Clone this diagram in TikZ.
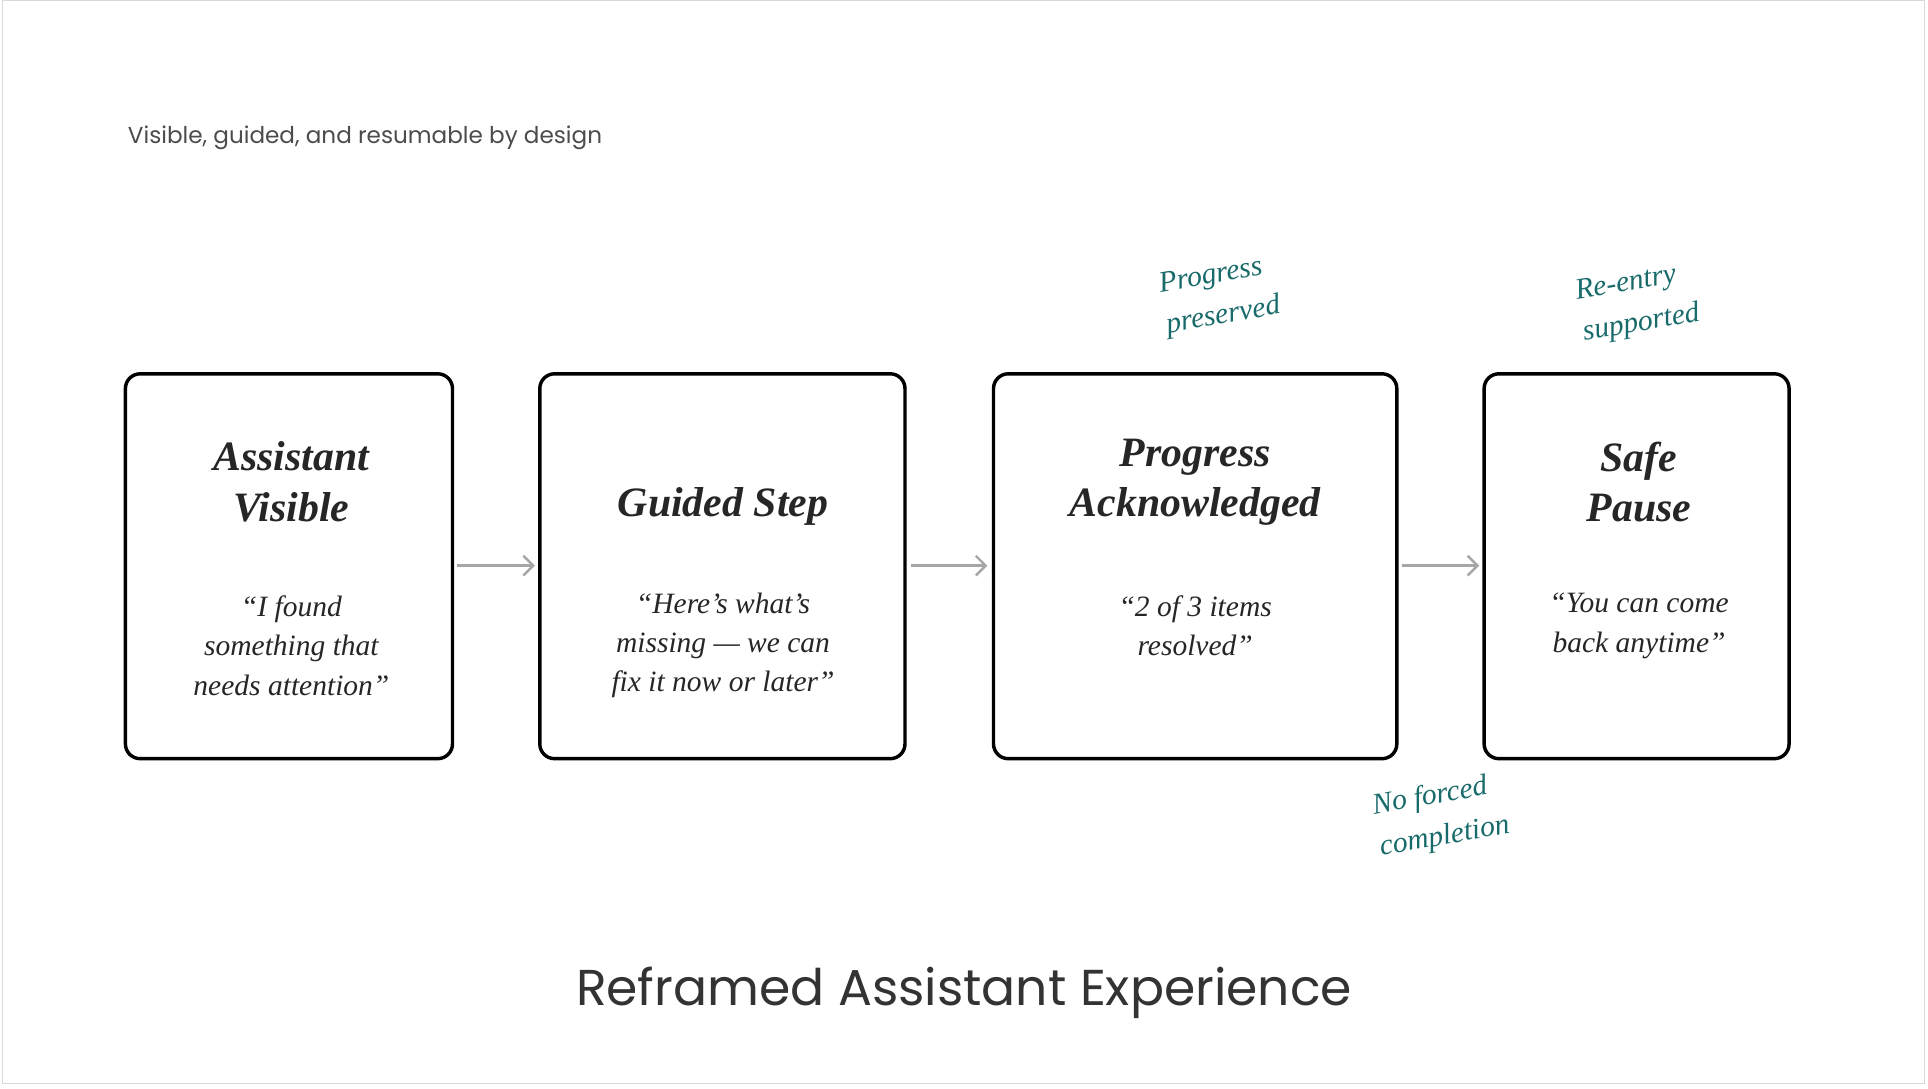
\documentclass[tikz,border=0pt]{standalone}
\usepackage{fontspec}
\usetikzlibrary{arrows.meta}
\setmainfont{Liberation Serif}
\newfontfamily\popp{Poppins}
\newfontfamily\hand{Liberation Serif}
\begin{document}
\begin{tikzpicture}[x=0.5pt,y=-0.5pt,
  card/.style={draw=black,line width=1.4pt,rounded corners=6pt,fill=white},
  ttl/.style={font=\hand\itshape\bfseries\fontsize{17}{20.5}\selectfont,align=center,text=black!85},
  quo/.style={font=\hand\itshape\fontsize{12}{16}\selectfont,align=center,text=black!85},
  note/.style={font=\hand\itshape\fontsize{12}{17}\selectfont,align=left,text=teal!70!black!90,rotate=10},
  arr/.style={draw=black!35,line width=1pt,-{Straight Barb[length=4pt,width=8pt]}}]
\useasboundingbox (0,0) rectangle (1568,885);
\draw[black!15,fill=white] (2,0) rectangle (1565,881);
\node[anchor=west,font=\popp\fontsize{9.4}{12}\selectfont,text=black!70] (sub) at (97,112) {Visible, guided, and resumable by design};
\draw[card] (102,304) rectangle (368,617); \coordinate (c1) at (235,460);
\draw[card] (439,304) rectangle (736,617); \coordinate (c2) at (587.5,460);
\draw[card] (808,304) rectangle (1136,617); \coordinate (c3) at (972,460);
\draw[card] (1207,304) rectangle (1455,617); \coordinate (c4) at (1331,460);
\node[ttl] (t1) at (237,392) {Assistant\\Visible};
\node[ttl] (t2) at (588,412) {Guided Step};
\node[ttl] (t3) at (972,392) {Progress\\Acknowledged};
\node[ttl] (t4) at (1333,392) {Safe\\Pause};
\node[quo] (q1) at (237,525) {“I found\\something that\\needs attention”};
\node[quo] (q2) at (588,525) {“Here’s what’s\\missing — we can\\fix it now or later”};
\node[quo] (q3) at (972,509) {“2 of 3 items\\resolved”};
\node[quo] (q4) at (1333,509) {“You can come\\back anytime”};
\coordinate (a1s) at (372,460); \coordinate (a1e) at (435,460);
\coordinate (a2s) at (741,460); \coordinate (a2e) at (803,460);
\coordinate (a3s) at (1140,460); \coordinate (a3e) at (1203,460);
\draw[arr] (a1s) -- (a1e);
\draw[arr] (a2s) -- (a2e);
\draw[arr] (a3s) -- (a3e);
\node[note] (n1) at (992,241) {Progress\\preserved};
\node[note] (n2) at (1332,247) {Re-entry\\supported};
\node[note] (n3) at (1172,664) {No forced\\completion};
\node[font=\popp\fontsize{20.5}{24}\selectfont,text=black!80] (title) at (784,807) {Reframed Assistant Experience};
\end{tikzpicture}
\end{document}
